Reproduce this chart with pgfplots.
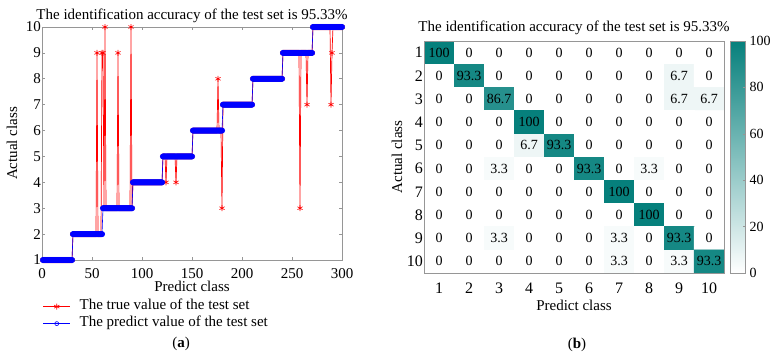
\documentclass[border=0pt]{standalone}
\usepackage{fontspec}
\setmainfont{Liberation Serif}
\usepackage{pgfplots}
\pgfplotsset{compat=1.18}
\usepackage{pgfplotstable}
\definecolor{axgray}{RGB}{150,150,150}
\definecolor{tealc}{RGB}{6,128,124}
\newcommand\fs{\fontsize{15}{18}\selectfont}
\newcommand\fsb{\fontsize{16}{19}\selectfont}
\newcommand\fsc{\fontsize{14}{17}\selectfont}

\pgfplotstableread[row sep=\\]{
x p t\\
1 1 1\\ 2 1 1\\ 3 1 1\\ 4 1 1\\ 5 1 1\\ 6 1 1\\ 7 1 1\\ 8 1 1\\ 9 1 1\\ 10 1 1\\
11 1 1\\ 12 1 1\\ 13 1 1\\ 14 1 1\\ 15 1 1\\ 16 1 1\\ 17 1 1\\ 18 1 1\\ 19 1 1\\ 20 1 1\\
21 1 1\\ 22 1 1\\ 23 1 1\\ 24 1 1\\ 25 1 1\\ 26 1 1\\ 27 1 1\\ 28 1 1\\ 29 1 1\\ 30 1 1\\
31 2 2\\ 32 2 2\\ 33 2 2\\ 34 2 2\\ 35 2 2\\ 36 2 2\\ 37 2 2\\ 38 2 2\\ 39 2 2\\ 40 2 2\\
41 2 2\\ 42 2 2\\ 43 2 2\\ 44 2 2\\ 45 2 2\\ 46 2 2\\ 47 2 2\\ 48 2 2\\ 49 2 2\\ 50 2 2\\
51 2 2\\ 52 2 2\\ 53 2 2\\ 54 2 2\\ 55 2 9\\ 56 2 2\\ 57 2 2\\ 58 2 2\\ 59 2 2\\ 60 2 9\\
61 3 9\\ 62 3 3\\ 63 3 10\\ 64 3 3\\ 65 3 3\\ 66 3 3\\ 67 3 3\\ 68 3 3\\ 69 3 3\\ 70 3 3\\
71 3 3\\ 72 3 3\\ 73 3 3\\ 74 3 3\\ 75 3 3\\ 76 3 9\\ 77 3 3\\ 78 3 3\\ 79 3 3\\ 80 3 3\\
81 3 3\\ 82 3 3\\ 83 3 3\\ 84 3 3\\ 85 3 3\\ 86 3 3\\ 87 3 3\\ 88 3 3\\ 89 3 10\\ 90 3 3\\
91 4 4\\ 92 4 4\\ 93 4 4\\ 94 4 4\\ 95 4 4\\ 96 4 4\\ 97 4 4\\ 98 4 4\\ 99 4 4\\ 100 4 4\\
101 4 4\\ 102 4 4\\ 103 4 4\\ 104 4 4\\ 105 4 4\\ 106 4 4\\ 107 4 4\\ 108 4 4\\ 109 4 4\\ 110 4 4\\
111 4 4\\ 112 4 4\\ 113 4 4\\ 114 4 4\\ 115 4 4\\ 116 4 4\\ 117 4 4\\ 118 4 4\\ 119 4 4\\ 120 4 4\\
121 5 5\\ 122 5 5\\ 123 5 5\\ 124 5 4\\ 125 5 5\\ 126 5 5\\ 127 5 5\\ 128 5 5\\ 129 5 5\\ 130 5 5\\
131 5 5\\ 132 5 5\\ 133 5 5\\ 134 5 4\\ 135 5 5\\ 136 5 5\\ 137 5 5\\ 138 5 5\\ 139 5 5\\ 140 5 5\\
141 5 5\\ 142 5 5\\ 143 5 5\\ 144 5 5\\ 145 5 5\\ 146 5 5\\ 147 5 5\\ 148 5 5\\ 149 5 5\\ 150 5 5\\
151 6 6\\ 152 6 6\\ 153 6 6\\ 154 6 6\\ 155 6 6\\ 156 6 6\\ 157 6 6\\ 158 6 6\\ 159 6 6\\ 160 6 6\\
161 6 6\\ 162 6 6\\ 163 6 6\\ 164 6 6\\ 165 6 6\\ 166 6 6\\ 167 6 6\\ 168 6 6\\ 169 6 6\\ 170 6 6\\
171 6 6\\ 172 6 6\\ 173 6 6\\ 174 6 6\\ 175 6 6\\ 176 6 8\\ 177 6 6\\ 178 6 6\\ 179 6 6\\ 180 6 3\\
181 7 7\\ 182 7 7\\ 183 7 7\\ 184 7 7\\ 185 7 7\\ 186 7 7\\ 187 7 7\\ 188 7 7\\ 189 7 7\\ 190 7 7\\
191 7 7\\ 192 7 7\\ 193 7 7\\ 194 7 7\\ 195 7 7\\ 196 7 7\\ 197 7 7\\ 198 7 7\\ 199 7 7\\ 200 7 7\\
201 7 7\\ 202 7 7\\ 203 7 7\\ 204 7 7\\ 205 7 7\\ 206 7 7\\ 207 7 7\\ 208 7 7\\ 209 7 7\\ 210 7 7\\
211 8 8\\ 212 8 8\\ 213 8 8\\ 214 8 8\\ 215 8 8\\ 216 8 8\\ 217 8 8\\ 218 8 8\\ 219 8 8\\ 220 8 8\\
221 8 8\\ 222 8 8\\ 223 8 8\\ 224 8 8\\ 225 8 8\\ 226 8 8\\ 227 8 8\\ 228 8 8\\ 229 8 8\\ 230 8 8\\
231 8 8\\ 232 8 8\\ 233 8 8\\ 234 8 8\\ 235 8 8\\ 236 8 8\\ 237 8 8\\ 238 8 8\\ 239 8 8\\ 240 8 8\\
241 9 9\\ 242 9 9\\ 243 9 9\\ 244 9 9\\ 245 9 9\\ 246 9 9\\ 247 9 9\\ 248 9 9\\ 249 9 9\\ 250 9 9\\
251 9 9\\ 252 9 9\\ 253 9 9\\ 254 9 9\\ 255 9 9\\ 256 9 9\\ 257 9 9\\ 258 9 3\\ 259 9 9\\ 260 9 9\\
261 9 9\\ 262 9 9\\ 263 9 9\\ 264 9 9\\ 265 9 7\\ 266 9 9\\ 267 9 9\\ 268 9 9\\ 269 9 9\\ 270 9 9\\
271 10 10\\ 272 10 10\\ 273 10 10\\ 274 10 10\\ 275 10 10\\ 276 10 10\\ 277 10 10\\ 278 10 10\\ 279 10 10\\ 280 10 10\\
281 10 10\\ 282 10 10\\ 283 10 10\\ 284 10 10\\ 285 10 10\\ 286 10 10\\ 287 10 10\\ 288 10 10\\ 289 10 7\\ 290 10 9\\
291 10 10\\ 292 10 10\\ 293 10 10\\ 294 10 10\\ 295 10 10\\ 296 10 10\\ 297 10 10\\ 298 10 10\\ 299 10 10\\ 300 10 10\\
}\lineTab

\pgfplotstableread[row sep=\\]{
x y c\\
1 1 100\\ 2 1 0\\ 3 1 0\\ 4 1 0\\ 5 1 0\\ 6 1 0\\ 7 1 0\\ 8 1 0\\ 9 1 0\\ 10 1 0\\
1 2 0\\ 2 2 93.3\\ 3 2 0\\ 4 2 0\\ 5 2 0\\ 6 2 0\\ 7 2 0\\ 8 2 0\\ 9 2 6.7\\ 10 2 0\\
1 3 0\\ 2 3 0\\ 3 3 86.7\\ 4 3 0\\ 5 3 0\\ 6 3 0\\ 7 3 0\\ 8 3 0\\ 9 3 6.7\\ 10 3 6.7\\
1 4 0\\ 2 4 0\\ 3 4 0\\ 4 4 100\\ 5 4 0\\ 6 4 0\\ 7 4 0\\ 8 4 0\\ 9 4 0\\ 10 4 0\\
1 5 0\\ 2 5 0\\ 3 5 0\\ 4 5 6.7\\ 5 5 93.3\\ 6 5 0\\ 7 5 0\\ 8 5 0\\ 9 5 0\\ 10 5 0\\
1 6 0\\ 2 6 0\\ 3 6 3.3\\ 4 6 0\\ 5 6 0\\ 6 6 93.3\\ 7 6 0\\ 8 6 3.3\\ 9 6 0\\ 10 6 0\\
1 7 0\\ 2 7 0\\ 3 7 0\\ 4 7 0\\ 5 7 0\\ 6 7 0\\ 7 7 100\\ 8 7 0\\ 9 7 0\\ 10 7 0\\
1 8 0\\ 2 8 0\\ 3 8 0\\ 4 8 0\\ 5 8 0\\ 6 8 0\\ 7 8 0\\ 8 8 100\\ 9 8 0\\ 10 8 0\\
1 9 0\\ 2 9 0\\ 3 9 3.3\\ 4 9 0\\ 5 9 0\\ 6 9 0\\ 7 9 3.3\\ 8 9 0\\ 9 9 93.3\\ 10 9 0\\
1 10 0\\ 2 10 0\\ 3 10 0\\ 4 10 0\\ 5 10 0\\ 6 10 0\\ 7 10 3.3\\ 8 10 0\\ 9 10 3.3\\ 10 10 93.3\\
}\cmTab

\begin{document}
\begin{tikzpicture}
\useasboundingbox (0,0) rectangle (773pt,357pt);
% ---------------- panel (a)
\begin{axis}[
  at={(42pt,97pt)}, anchor=south west,
  scale only axis, width=300pt, height=233pt,
  xmin=0, xmax=300, ymin=1, ymax=10,
  xtick={0,50,...,300}, ytick={1,...,10},
  clip=false,
  axis line style={axgray, line width=0.7pt},
  every tick/.style={axgray, line width=0.6pt},
  major tick length=3pt,
  tick align=inside,
  /pgf/number format/assume math mode=true,
  tick label style={font=\fs, text=black},
  xticklabel style={anchor=base, yshift=-18pt},
  yticklabel style={anchor=east, inner sep=1pt},
  title={The identification accuracy of the test set is 95.33\%},
  title style={at={(axis description cs:0.5,1.0086)}, anchor=base, inner sep=0pt, font=\fs},
  xlabel={Predict class},
  xlabel style={at={(axis description cs:0.5,-0.1373)}, anchor=base, inner sep=0pt, font=\fs},
  ylabel={Actual class},
  ylabel style={at={(axis description cs:-0.1,0.5)}, anchor=center, inner sep=0pt, font=\fs},
  legend cell align=left,
  legend image code/.code={\draw[mark repeat=2,mark phase=2,#1] plot coordinates {(0pt,0pt) (13.5pt,0pt) (27pt,0pt)};},
  legend style={at={(axis description cs:0.003,-0.1700)}, anchor=north west, draw=none, fill=none,
    font=\fs, inner sep=0pt, outer sep=0pt, row sep=3pt,
    nodes={inner sep=0pt, text height=10pt, text depth=4pt},
    /tikz/every odd column/.append style={column sep=9pt}},
]
\addplot[red, line width=0.7pt, mark=asterisk, mark size=3pt, mark options={line width=0.6pt}]
  table[x=x, y=t]{\lineTab};
\addlegendentry{The true value of the test set}
\addplot[blue, line width=0.6pt, mark=*, mark size=2.7pt, mark options={fill=blue, draw=blue},
  legend image post style={mark=o, mark size=2pt, mark options={fill=none, line width=0.6pt}}]
  table[x=x, y=p]{\lineTab};
\addlegendentry{The predict value of the test set}
\end{axis}
\node[font=\fs] at (181pt,13pt) {(\textbf{a})};
% ---------------- panel (b)
\begin{axis}[
  at={(424pt,84pt)}, anchor=south west,
  scale only axis, width=300pt, height=232pt,
  xmin=0.5, xmax=10.5, ymin=0.5, ymax=10.5, y dir=reverse,
  enlargelimits=false,
  axis on top,
  xtick={1,...,10}, ytick={1,...,10},
  major tick length=0pt,
  axis line style={axgray, line width=0.7pt},
  /pgf/number format/assume math mode=true,
  tick label style={font=\fsb, text=black},
  xticklabel style={anchor=base, yshift=-20pt},
  yticklabel style={anchor=east, inner sep=1pt},
  xlabel={Predict class},
  xlabel style={at={(axis description cs:0.5,-0.1595)}, anchor=base, inner sep=0pt, font=\fs},
  ylabel={Actual class},
  ylabel style={at={(axis description cs:-0.09,0.5)}, anchor=center, inner sep=0pt, font=\fs},
  colormap={tm}{rgb255=(255,255,255) rgb255=(6,128,124)},
  point meta min=0, point meta max=100,
  colorbar,
  colorbar style={
    at={(parent axis.north east)}, anchor=north west, xshift=-2pt,
    width=15pt,
    axis line style={axgray, line width=0.7pt},
    ytick={0,20,...,100},
    ytick pos=right,
    major tick length=3pt, tick align=inside,
    every tick/.style={axgray, line width=0.6pt},
    /pgf/number format/assume math mode=true,
    yticklabel style={font=\fsc, text=black, anchor=west, inner sep=0pt, xshift=4pt},
  },
]
\addplot[matrix plot*, mesh/cols=10, point meta=explicit] table[x=x, y=y, meta=c]{\cmTab};
\addplot[only marks, mark=none, point meta=explicit symbolic,
  nodes near coords, nodes near coords align=center,
  every node near coord/.append style={font=\fsc, text=black, inner sep=0pt}]
  table[x=x, y=y, meta=c]{\cmTab};
\end{axis}
\node[font=\fs, anchor=base, inner sep=0pt] at (574pt,325pt) {The identification accuracy of the test set is 95.33\%};
\node[font=\fs] at (577pt,12pt) {(\textbf{b})};
\end{tikzpicture}
\end{document}
